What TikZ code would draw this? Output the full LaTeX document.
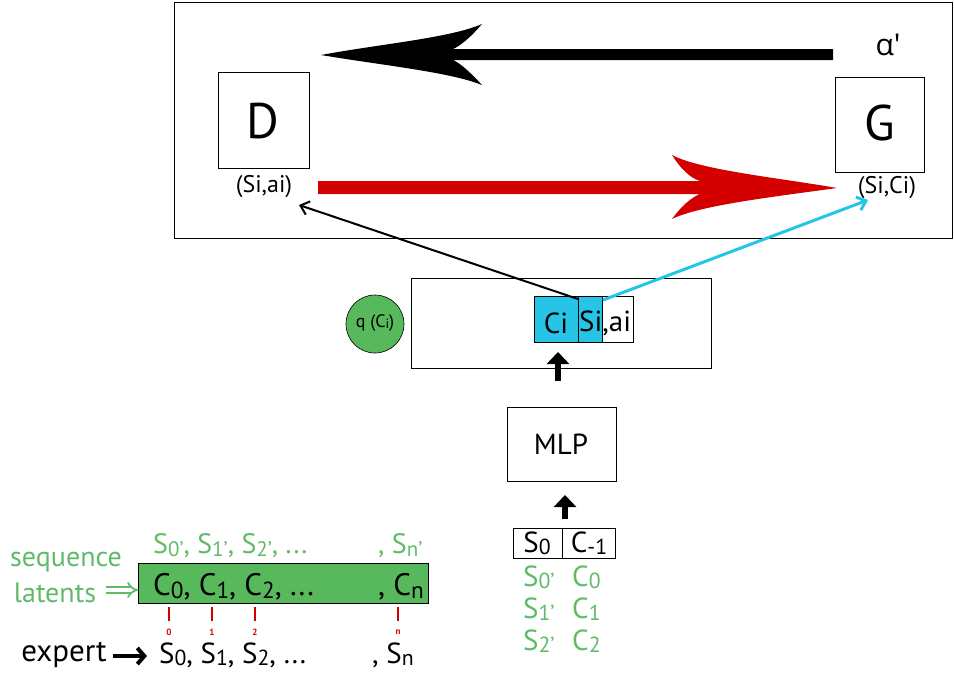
\documentclass[tikz,border=0pt]{standalone}
\usepackage{fontspec}
\setmainfont{PT Sans}
\newfontfamily\grk{Open Sans}
\usetikzlibrary{arrows.meta}
\definecolor{lgreen}{RGB}{96,186,104}
\definecolor{boxgreen}{RGB}{88,184,92}
\definecolor{skyc}{RGB}{38,196,230}
\definecolor{darkred}{RGB}{212,0,0}
\newcommand\lo[1]{\raisebox{-0.08em}{\scalebox{0.75}{#1}}}
\newcommand\fs[1]{\fontsize{#1}{#1}\selectfont}
\tikzset{
  frame/.style={draw=black, line width=0.9pt},
  cell/.style={draw=black, line width=0.8pt, inner sep=0pt, anchor=north west},
  lbl/.style={inner sep=0pt, text=black},
  glbl/.style={inner sep=0pt, text=lgreen},
  thinarrow/.style={-{Straight Barb[length=8pt,width=14pt]}},
  bigup/.style={line width=5.5pt, -{Triangle[length=12pt,width=22pt]}},
  tick/.style={draw=darkred, line width=2pt}
}
\begin{document}
\begin{tikzpicture}[x=1pt,y=-1pt]
\useasboundingbox (0,0) rectangle (954,675);

% ---------- upper block: discriminator and generator ----------
\node[cell, frame, minimum width=778pt, minimum height=236pt] (outer) at (174,2) {};
\node[cell, minimum width=91pt, minimum height=96pt] (dbox) at (218,72) {};
\node[lbl] (dlab) at (263,121) {\fs{50}D};
\node[cell, minimum width=89pt, minimum height=95pt] (gbox) at (835,77) {};
\node[lbl] (glab) at (880,123) {\fs{50}G};
\node[lbl] (dpair) at (264,187) {\fs{24}(Si,ai)};
\node[lbl] (gpair) at (887,188) {\fs{24}(Si,Ci)};
\node[lbl] (alph) at (888,45) {\fs{30}\grk α′};

% black barbed arrow G -> D
\fill[black] (321,55) .. controls (380,44) and (450,38) .. (482,24)
  .. controls (470,38) and (460,46) .. (453,49) -- (833,49) -- (833,60) -- (453,60)
  .. controls (460,63) and (470,72) .. (482,85)
  .. controls (450,72) and (380,65) .. cycle;
% red barbed arrow D -> G
\fill[darkred] (837,188) .. controls (780,178) and (700,170) .. (672,155)
  .. controls (680,168) and (690,178) .. (700,181) -- (318,181) -- (318,194) -- (700,194)
  .. controls (690,198) and (680,208) .. (672,219)
  .. controls (700,205) and (780,196) .. cycle;

% ---------- middle block: latent and state/action ----------
\node[cell, minimum width=300pt, minimum height=90pt] (mid) at (411,278) {};
\node[cell, fill=skyc, minimum width=44pt, minimum height=46pt] (cbox) at (534,296) {};
\node[cell, fill=white, minimum width=31pt, minimum height=46pt] (abox) at (602,296) {};
\node[cell, fill=skyc, minimum width=24pt, minimum height=46pt] (sbox) at (578,296) {};
\node[lbl] (ctext) at (556,323) {\fs{29}Ci};
\node[lbl, anchor=west] (satext) at (579,323) {\fs{29}Si,ai};
\node[circle, draw=black, line width=0.6pt, fill=boxgreen, minimum size=58pt, inner sep=0pt] (qc) at (375,324) {};
\node[lbl] (qtext) at (375,323) {\fs{18}q (C\lo{i})};

\coordinate (blkstart) at (578,299);
\coordinate (blkend) at (299,205);
\coordinate (cystart) at (603,300);
\coordinate (cyend) at (868,200);
\draw[thinarrow, line width=2pt] (blkstart) -- (blkend);
\draw[thinarrow, draw=skyc, line width=3pt] (cystart) -- (cyend);

\coordinate (up1a) at (558,381);
\coordinate (up1b) at (558,352);
\draw[bigup] (up1a) -- (up1b);

% ---------- MLP ----------
\node[cell, minimum width=109pt, minimum height=74pt] (mlp) at (507,407) {};
\node[lbl] (mlptext) at (561,444) {\fs{29}MLP};
\coordinate (up2a) at (565,519);
\coordinate (up2b) at (565,495);
\draw[bigup] (up2a) -- (up2b);

\node[cell, minimum width=49pt, minimum height=30pt] (s0box) at (513,528) {};
\node[cell, minimum width=53pt, minimum height=30pt] (cm1box) at (562,528) {};
\node[lbl] (s0t) at (537,543) {\fs{29}S\lo{0}};
\node[lbl] (cm1t) at (589,543) {\fs{29}C\lo{-1}};
\node[glbl, anchor=west] (r1s) at (523,577) {\fs{29}S\lo{0’}};
\node[glbl, anchor=west] (r1c) at (572,577) {\fs{29}C\lo{0}};
\node[glbl, anchor=west] (r2s) at (523,609) {\fs{29}S\lo{1’}};
\node[glbl, anchor=west] (r2c) at (572,609) {\fs{29}C\lo{1}};
\node[glbl, anchor=west] (r3s) at (523,641) {\fs{29}S\lo{2’}};
\node[glbl, anchor=west] (r3c) at (572,641) {\fs{29}C\lo{2}};

% ---------- sequence latents and expert states ----------
\node[glbl, anchor=west] (sptop) at (153,546) {\fs{28}S\lo{0’}, S\lo{1’}, S\lo{2’}, ...};
\node[glbl, anchor=west] (spn) at (378,546) {\fs{28}, S\lo{n’}};
\node[cell, fill=boxgreen, minimum width=290pt, minimum height=40pt] (latbox) at (138,563) {};
\node[lbl, anchor=west] (cseq) at (153,587) {\fs{31}C\lo{0}, C\lo{1}, C\lo{2}, ...};
\node[lbl, anchor=west] (cn) at (378,587) {\fs{31}, C\lo{n}};
\node[glbl] (seqw) at (66,562) {\fs{28}sequence};
\node[glbl] (latw) at (55,593) {\fs{28}latents};
\coordinate (garrow) at (106,590);
\draw[draw=lgreen, line width=1.8pt, double=white, double distance=3.5pt, -{Implies[length=11pt]}] (garrow) -- (latbox.west |- garrow);

\foreach \xx/\tt in {169/0, 212/1, 255/2, 398/n} {
  \draw[tick] (\xx,607) -- (\xx,621);
  \node[inner sep=0pt, text=darkred] at (\xx,632) {\fs{9}\bfseries\tt};
}

\node[lbl] (expw) at (64,655) {\fs{31}expert};
\coordinate (expa) at (113,656);
\coordinate (expb) at (147,656);
\draw[line width=4pt, -{Straight Barb[length=7pt,width=16pt]}] (expa) -- (expb);
\node[lbl, anchor=west] (sseq) at (159,655) {\fs{29}S\lo{0}, S\lo{1}, S\lo{2}, ...};
\node[lbl, anchor=west] (sn) at (372,655) {\fs{29}, S\lo{n}};
\end{tikzpicture}
\end{document}
